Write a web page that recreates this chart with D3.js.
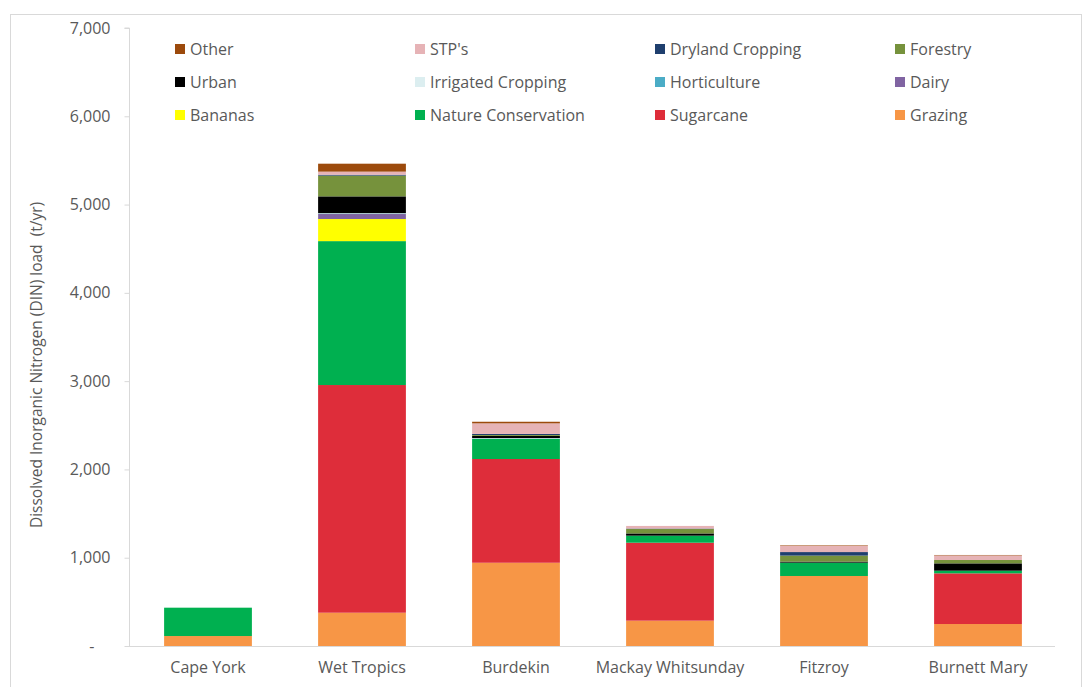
<!DOCTYPE html>
<html>
<head>
<meta charset="utf-8">
<script src="https://cdn.jsdelivr.net/npm/d3@7"></script>
<style>
  body { margin: 0; background: #fff; }
  svg { display: block; font-family: "Open Sans", "Noto Sans", sans-serif; }
</style>
</head>
<body>
<svg id="chart" width="1083" height="687"></svg>
<script>
const categories = ["Cape York", "Wet Tropics", "Burdekin", "Mackay Whitsunday", "Fitzroy", "Burnett Mary"];
// stacking order, bottom to top
const seriesNames = ["Grazing", "Sugarcane", "Nature Conservation", "Bananas", "Dairy", "Horticulture",
  "Irrigated Cropping", "Urban", "Forestry", "Dryland Cropping", "STP's", "Other"];
const grazing      = [113, 377, 943, 287, 793, 249];
const sugarcane    = [0, 2579, 1175, 883, 0, 574];
const nature       = [321, 1630, 227, 80, 151, 30];
const bananas      = [0, 250, 0, 0, 0, 0];
const dairy        = [0, 57, 0, 0, 0, 0];
const horticulture = [0, 5, 5, 0, 0, 0];
const irrigated    = [0, 5, 5, 0, 0, 0];
const urban        = [0, 190, 25, 25, 12, 83];
const forestry     = [0, 235, 10, 50, 68, 38];
const dryland      = [0, 10, 12, 5, 40, 0];
const stps         = [0, 35, 120, 30, 70, 52];
const other        = [0, 90, 18, 0, 6, 5];
const seriesValues = [grazing, sugarcane, nature, bananas, dairy, horticulture, irrigated, urban, forestry, dryland, stps, other];
const yTicks = [0, 1000, 2000, 3000, 4000, 5000, 6000, 7000];
// legend reading order (rows of four)
const legendOrder = ["Other", "STP's", "Dryland Cropping", "Forestry",
  "Urban", "Irrigated Cropping", "Horticulture", "Dairy",
  "Bananas", "Nature Conservation", "Sugarcane", "Grazing"];
const yTitle = "Dissolved Inorganic Nitrogen (DIN) load  (t/yr)";

const colors = {
  "Other": "#9C4A0C", "STP's": "#E6B3B6", "Dryland Cropping": "#1F3F6E", "Forestry": "#76923C",
  "Urban": "#000000", "Irrigated Cropping": "#DCEEF0", "Horticulture": "#4BACC6", "Dairy": "#8064A2",
  "Bananas": "#FFFF00", "Nature Conservation": "#00B050", "Sugarcane": "#DE2D3A", "Grazing": "#F79646"
};

const rows = categories.map((c, i) => {
  const r = { cat: c };
  seriesNames.forEach((s, j) => r[s] = seriesValues[j][i]);
  return r;
});

const svg = d3.select("#chart");
// outer frame
svg.append("rect").attr("x", 10.5).attr("y", 14.5).attr("width", 1071).attr("height", 690)
  .attr("fill", "none").attr("stroke", "#d9d9d9");

const x = d3.scaleBand().domain(categories).range([131, 1055]).paddingInner(0.43).paddingOuter(0.215);
const y = d3.scaleLinear().domain([0, 7000]).range([646, 28]);

const stack = d3.stack().keys(seriesNames)(rows);

svg.append("g").selectAll("g").data(stack).join("g")
  .attr("fill", d => colors[d.key])
  .selectAll("rect").data(d => d).join("rect")
  .attr("x", d => x(d.data.cat))
  .attr("width", x.bandwidth())
  .attr("y", d => y(d[1]))
  .attr("height", d => Math.max(0, y(d[0]) - y(d[1])));

// Y axis
const yAxis = d3.axisLeft(y).tickValues(yTicks).tickSize(5).tickPadding(14)
  .tickFormat(d => d === 0 ? "-" : d3.format(",")(d));
const gy = svg.append("g").attr("transform", "translate(129.5,0)").call(yAxis);
gy.select(".domain").attr("stroke", "#d9d9d9").attr("d", "M-5," + y(7000) + "H0V" + y(0));
gy.selectAll(".tick line").attr("stroke", "#d9d9d9");
gy.selectAll(".tick text").attr("fill", "#595959").style("font-size", "16px")
  .style("font-family", "'Open Sans', sans-serif");
gy.selectAll(".tick").filter(d => d === 0).select("text").attr("dx", "-16");

// X axis
const xAxis = d3.axisBottom(x).tickSize(0).tickPadding(15);
const gx = svg.append("g").attr("transform", "translate(0,646.5)").call(xAxis);
gx.select(".domain").attr("stroke", "#d9d9d9").attr("d", "M129,0H1055");
gx.selectAll(".tick text").attr("fill", "#595959").style("font-size", "16px")
  .style("font-family", "'Open Sans', sans-serif");

// Y title
svg.append("text")
  .attr("transform", "translate(42,365) rotate(-90)")
  .attr("text-anchor", "middle")
  .attr("fill", "#595959").style("font-size", "15.5px")
  .style("white-space", "pre")
  .text(yTitle);

// Legend
const legX = [175, 415, 655, 895];
const legY = [49, 82, 115];
const leg = svg.append("g").selectAll("g").data(legendOrder).join("g")
  .attr("transform", (d, i) => `translate(${legX[i % 4]},${legY[Math.floor(i / 4)]})`);
leg.append("rect").attr("x", 0).attr("y", -5).attr("width", 10).attr("height", 10)
  .attr("fill", d => colors[d]);
leg.append("text").attr("x", 15).attr("y", 0).attr("dy", "0.35em")
  .attr("fill", "#595959").style("font-size", "16px").text(d => d);
</script>
</body>
</html>
